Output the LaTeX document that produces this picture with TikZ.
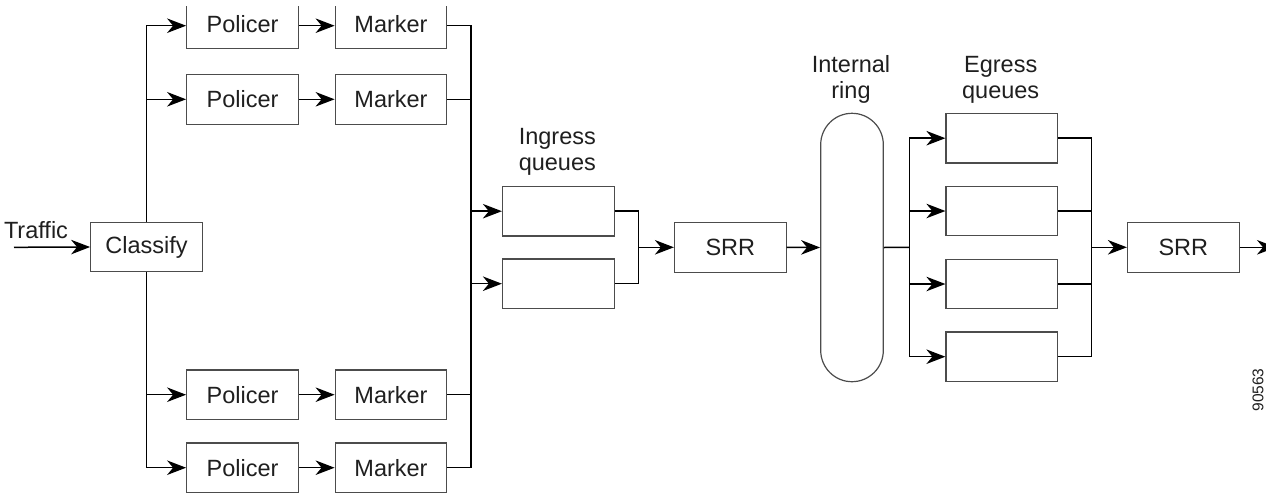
\documentclass[tikz,border=0pt]{standalone}
\usepackage{fontspec}
\setmainfont{Liberation Sans}
\usetikzlibrary{arrows.meta}
\begin{document}
\begin{tikzpicture}[x=1pt,y=-1pt,
  box/.style={draw=black!70,line width=1.2pt,minimum width=111.6pt,minimum height=49.6pt,inner sep=0pt,text=black!88,font=\fontsize{23.5}{26}\selectfont},
  lbl/.style={text=black!88,font=\fontsize{23.5}{26}\selectfont,align=center,inner sep=0pt},
  wire/.style={draw=black,line width=1.5pt},
  arr/.style={wire,-{Stealth[length=19pt,width=14.5pt,inset=6pt]}}]
\useasboundingbox (0,0) rectangle (1266,493);
\clip (0,6.5) rectangle (1266,493);
% nodes
\node[box] (cls) at (146.5,247) {Classify};
\node[box] (p1) at (242.5,24) {Policer};
\node[box] (p2) at (242.5,99.3) {Policer};
\node[box] (p3) at (242.5,394.7) {Policer};
\node[box] (p4) at (242.5,467.7) {Policer};
\node[box] (m1) at (391,24) {Marker};
\node[box] (m2) at (391,99.3) {Marker};
\node[box] (m3) at (391,394.7) {Marker};
\node[box] (m4) at (391,467.7) {Marker};
\node[box] (q1) at (558.3,211.2) {};
\node[box] (q2) at (558.3,283.7) {};
\node[box] (srr1) at (730.3,247.3) {SRR};
\node[draw=black!70,line width=1.2pt,minimum width=62.6pt,minimum height=268.4pt,rounded corners=31.3pt,inner sep=0pt] (ring) at (852,247.5) {};
\node[box] (e1) at (1001.8,138.2) {};
\node[box] (e2) at (1001.8,211) {};
\node[box] (e3) at (1001.8,284) {};
\node[box] (e4) at (1001.8,356.7) {};
\node[box] (srr2) at (1183.3,247.3) {SRR};
% labels
\node[lbl] (ltraffic) at (36,230) {Traffic};
\node[lbl] (ling) at (557.3,151.7) {Ingress\\queues};
\node[lbl] (lring) at (851,79.7) {Internal\\ring};
\node[lbl] (legr) at (1000.7,79.7) {Egress\\queues};
\node[lbl,font=\fontsize{15.5}{17}\selectfont,rotate=90] (lnum) at (1258,390) {90563};
% coordinates
\coordinate (tin) at (14,247.3);
\coordinate (ib1) at (471,25.7);
\coordinate (ib2) at (471,467.7);
\coordinate (qj) at (638.3,247.3);
\coordinate (eb) at (909.3,247.3);
\coordinate (ej) at (1091.7,247.3);
\coordinate (tout) at (1276,247.3);
% connectors
\draw[arr] (tin) -- (cls.west);
\draw[arr] (cls.north) |- (p1.west |- ib1);
\draw[arr] (cls.north) |- (p2.west);
\draw[arr] (cls.south) |- (p3.west);
\draw[arr] (cls.south) |- (p4.west);
\draw[arr] (p1.east |- ib1) -- (m1.west |- ib1);
\draw[arr] (p2) -- (m2);
\draw[arr] (p3) -- (m3);
\draw[arr] (p4) -- (m4);
\draw[wire] (m1.east |- ib1) -- (ib1) -- (ib2) -- (m4.east);
\draw[wire] (m2.east) -- (m2.east -| ib1);
\draw[wire] (m3.east) -- (m3.east -| ib1);
\draw[arr] (q1.west -| ib1) -- (q1.west);
\draw[arr] (q2.west -| ib1) -- (q2.west);
\draw[wire] (q1.east) -| (qj) |- (q2.east);
\draw[arr] (qj) -- (srr1.west);
\draw[arr] (srr1.east) -- (ring.west);
\draw[wire] (ring.east) -- (eb);
\draw[wire] (e1.west -| eb) -- (e4.west -| eb);
\draw[arr] (e1.west -| eb) -- (e1.west);
\draw[arr] (e2.west -| eb) -- (e2.west);
\draw[arr] (e3.west -| eb) -- (e3.west);
\draw[arr] (e4.west -| eb) -- (e4.west);
\draw[wire] (e1.east) -| (ej) |- (e4.east);
\draw[wire] (e2.east) -- (e2.east -| ej);
\draw[wire] (e3.east) -- (e3.east -| ej);
\draw[arr] (ej) -- (srr2.west);
\draw[arr] (srr2.east) -- (tout);
\end{tikzpicture}
\end{document}
